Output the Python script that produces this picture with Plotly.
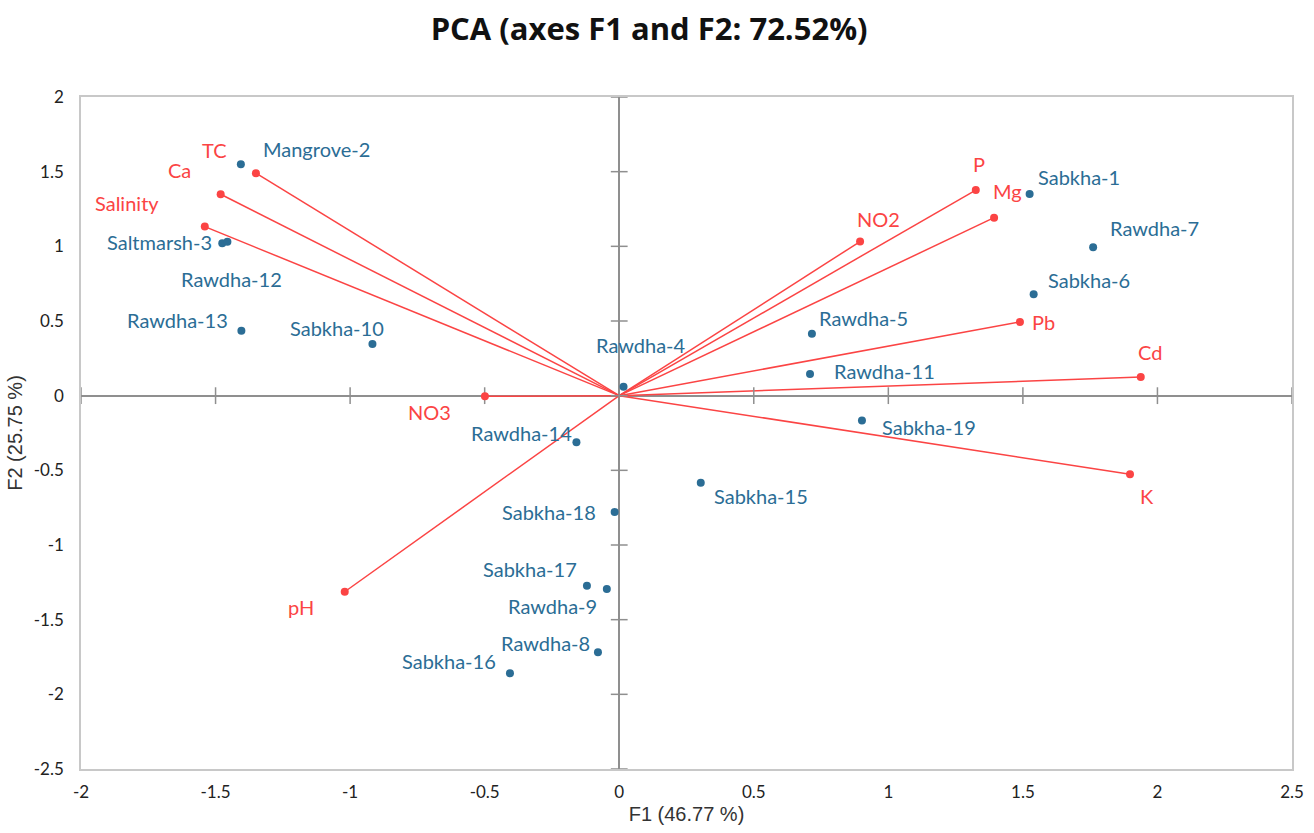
import plotly.graph_objects as go

# ---- Observations (blue) ----
obs_names = ["Mangrove-2", "Saltmarsh-3", "Rawdha-12", "Rawdha-13", "Sabkha-10",
             "Rawdha-4", "Rawdha-14", "Sabkha-18", "Sabkha-15", "Sabkha-17",
             "Rawdha-9", "Rawdha-8", "Sabkha-16", "Sabkha-1", "Rawdha-7",
             "Sabkha-6", "Rawdha-5", "Rawdha-11", "Sabkha-19"]
obs_f1 = [-1.406, -1.475, -1.456, -1.404, -0.917,
          0.016, -0.159, -0.017, 0.303, -0.120,
          -0.046, -0.079, -0.406, 1.525, 1.761,
          1.540, 0.716, 0.709, 0.902]
obs_f2 = [1.55, 1.02, 1.03, 0.435, 0.346,
          0.06, -0.312, -0.779, -0.583, -1.273,
          -1.295, -1.719, -1.859, 1.351, 0.994,
          0.679, 0.415, 0.145, -0.167]

# ---- Variables (red) ----
var_names = ["TC", "Ca", "Salinity", "NO3", "pH", "NO2", "P", "Mg", "Pb", "Cd", "K"]
var_f1 = [-1.350, -1.481, -1.540, -0.499, -1.020, 0.895, 1.325, 1.393, 1.489, 1.938, 1.898]
var_f2 = [1.49, 1.349, 1.132, -0.004, -1.313, 1.032, 1.377, 1.192, 0.494, 0.125, -0.526]

x_ticks = [-2, -1.5, -1, -0.5, 0, 0.5, 1, 1.5, 2, 2.5]
y_ticks = [-2.5, -2, -1.5, -1, -0.5, 0, 0.5, 1, 1.5, 2]

# label offsets in pixels (center of text relative to marker): (dx, dy-up)
obs_label_off = {
    "Mangrove-2": (76, 15), "Saltmarsh-3": (-63, 1), "Rawdha-12": (4, -37),
    "Rawdha-13": (-64, 11), "Sabkha-10": (-35, 16), "Rawdha-4": (17, 42),
    "Rawdha-14": (-55, 9), "Sabkha-18": (-66, 0), "Sabkha-15": (60, -13),
    "Sabkha-17": (-57, 17), "Rawdha-9": (-54, -17), "Rawdha-8": (-52, 9),
    "Sabkha-16": (-61, 12), "Sabkha-1": (49, 17), "Rawdha-7": (61, 19),
    "Sabkha-6": (55, 14), "Rawdha-5": (52, 16), "Rawdha-11": (74, 3),
    "Sabkha-19": (67, -6),
}
var_label_off = {
    "TC": (-41, 23), "Ca": (-41, 24), "Salinity": (-78, 24), "NO3": (-55, -16),
    "pH": (-44, -15), "NO2": (18, 23), "P": (3, 26), "Mg": (13, 27),
    "Pb": (24, 0), "Cd": (9, 25), "K": (17, -22),
}

BLUE = "#2b6d95"
RED = "#fb4444"
AX_GRAY = "#8f8f8f"

fig = go.Figure()

# vectors from origin
vx, vy = [], []
for x, y in zip(var_f1, var_f2):
    vx += [0, x, None]
    vy += [0, y, None]
fig.add_trace(go.Scatter(x=vx, y=vy, mode="lines",
                         line=dict(color=RED, width=1.5), hoverinfo="skip",
                         showlegend=False))

# cross ticks on zero lines
fig.add_trace(go.Scatter(x=x_ticks, y=[0] * len(x_ticks), mode="markers",
                         marker=dict(symbol="line-ns-open", size=12, color=AX_GRAY,
                                     line=dict(color=AX_GRAY, width=1.5)),
                         hoverinfo="skip", showlegend=False))
fig.add_trace(go.Scatter(x=[0] * len(y_ticks), y=y_ticks, mode="markers",
                         marker=dict(symbol="line-ew-open", size=12, color=AX_GRAY,
                                     line=dict(color=AX_GRAY, width=1.5)),
                         hoverinfo="skip", showlegend=False))

fig.add_trace(go.Scatter(x=var_f1, y=var_f2, mode="markers",
                         marker=dict(color=RED, size=8), text=var_names,
                         showlegend=False))
fig.add_trace(go.Scatter(x=obs_f1, y=obs_f2, mode="markers",
                         marker=dict(color=BLUE, size=8), text=obs_names,
                         showlegend=False))

LABEL_FONT = "Lato, 'Open Sans', sans-serif"
for n, x, y in zip(obs_names, obs_f1, obs_f2):
    dx, dy = obs_label_off[n]
    fig.add_annotation(x=x, y=y, text=n, showarrow=False, xshift=dx, yshift=dy,
                       font=dict(family=LABEL_FONT, size=20, color=BLUE))
for n, x, y in zip(var_names, var_f1, var_f2):
    dx, dy = var_label_off[n]
    fig.add_annotation(x=x, y=y, text=n, showarrow=False, xshift=dx, yshift=dy,
                       font=dict(family=LABEL_FONT, size=20, color=RED))

fig.update_layout(
    width=1314, height=833,
    margin=dict(l=81, r=22, t=97, b=64),
    paper_bgcolor="white", plot_bgcolor="white",
    title=dict(text="<b>PCA (axes F1 and F2: 72.52%)</b>", x=0.494, xanchor="center",
               y=0.965, yanchor="middle",
               font=dict(family="'Open Sans', sans-serif", size=31, color="#111111")),
    font=dict(family=LABEL_FONT, color="#222222"),
    xaxis=dict(range=[-2, 2.5], tickvals=x_ticks,
               ticktext=[f"{t:g}" for t in x_ticks],
               showgrid=False, zeroline=True, zerolinecolor=AX_GRAY, zerolinewidth=2,
               showline=True, linecolor="#c8c8c8", linewidth=1.5, mirror=True,
               ticks="", ticklabelstandoff=7, automargin=False,
               tickfont=dict(family=LABEL_FONT, size=17, color="#222222"),
               title=dict(text="F1 (46.77 %)", standoff=6,
                          font=dict(family="Liberation Sans, Arial, sans-serif",
                                    size=20, color="#333333"))),
    yaxis=dict(range=[-2.5, 2], tickvals=y_ticks,
               ticktext=[f"{t:g}" for t in y_ticks],
               showgrid=False, zeroline=True, zerolinecolor=AX_GRAY, zerolinewidth=2,
               showline=True, linecolor="#c8c8c8", linewidth=1.5, mirror=True,
               ticks="", ticklabelstandoff=12, automargin=False,
               tickfont=dict(family=LABEL_FONT, size=17, color="#222222"),
               title=dict(text="F2 (25.75 %)", standoff=6,
                          font=dict(family="Liberation Sans, Arial, sans-serif",
                                    size=20, color="#333333"))),
)

fig.write_html("out.html", config={"displayModeBar": False},
               post_script="document.body.style.margin='0';document.body.style.overflow='hidden';")
